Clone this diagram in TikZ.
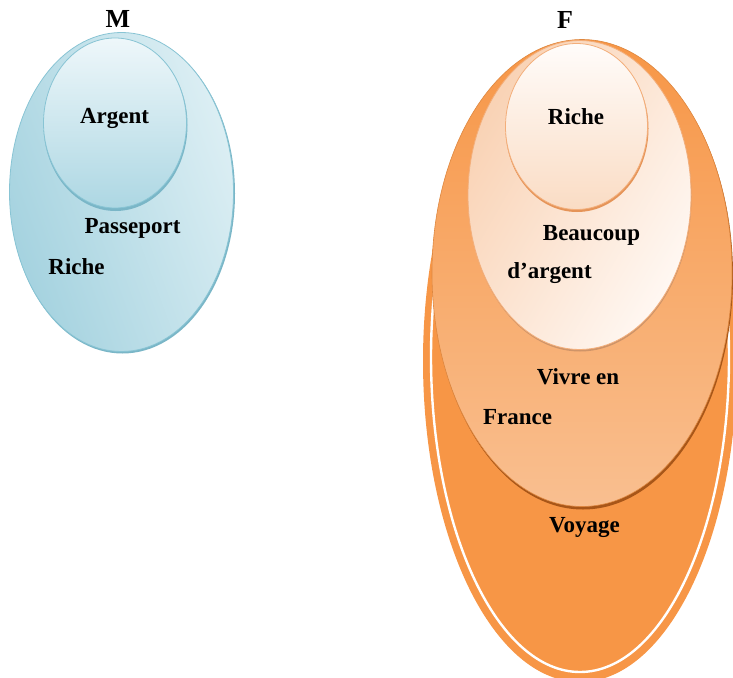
\documentclass[tikz,border=0pt]{standalone}
\usepackage{fontspec}
\setmainfont{Liberation Serif}
\usetikzlibrary{shapes.geometric}

% palette
\definecolor{mDark}{HTML}{A4D2DF}
\definecolor{mLight}{HTML}{DDEFF4}
\definecolor{mEdge}{HTML}{88C4D4}
\definecolor{mRim}{HTML}{7AB6C7}
\definecolor{mTop}{HTML}{EEF7FA}
\definecolor{mBottom}{HTML}{ADD7E3}
\definecolor{fOrange}{HTML}{F79646}
\definecolor{fMidTop}{HTML}{F79646}
\definecolor{fMidMid}{HTML}{F79C52}
\definecolor{fMidBottom}{HTML}{F9BF90}
\definecolor{fRim}{HTML}{A85618}
\definecolor{fPeach}{HTML}{F9D2B4}
\definecolor{fPale}{HTML}{FFF8F3}
\definecolor{fEdge}{HTML}{F3AE7A}
\definecolor{fCoreTop}{HTML}{FFFCFA}
\definecolor{fCoreBottom}{HTML}{FADCC4}
\definecolor{fCoreRim}{HTML}{E59458}

\begin{document}
\begin{tikzpicture}[x=1pt,y=-1pt,
  oval/.style={ellipse, inner sep=0pt, outer sep=0pt},
  lbl/.style={font=\fontsize{23}{23}\selectfont\bfseries, anchor=base, inner sep=0pt},
  ttl/.style={font=\fontsize{26}{26}\selectfont\bfseries, anchor=base, inner sep=0pt}]
\useasboundingbox (0,0) rectangle (733,677);

% ---------- set M ----------
\node[oval, fill=mRim, minimum width=225pt, minimum height=320pt] (mOuterRim) at (122.5,193.5) {};
\node[oval, draw=mEdge, line width=0.8pt, left color=mDark, right color=mLight,
      shading angle=110, minimum width=224pt, minimum height=319pt] (mOuter) at (121.5,192) {};
\node[oval, fill=mRim, minimum width=144pt, minimum height=172pt] (mInnerRim) at (115.5,125) {};
\node[oval, draw=mEdge, line width=0.8pt, top color=mTop, bottom color=mBottom,
      minimum width=143pt, minimum height=170pt] (mInner) at (115,123) {};

\node[ttl] (mTitle) at (118,28) {M};
\node[lbl] (mArgent) at (114.5,123) {Argent};
\node[lbl] (mPasseport) at (132.5,233) {Passeport};
\node[lbl] (mRiche) at (76.5,274) {Riche};

% ---------- set F ----------
% outer ring and the Voyage ellipse with its white outline
\node[oval, fill=fOrange, minimum width=314pt, minimum height=642pt] (fRing) at (580,361) {};
\node[oval, fill=fOrange, draw=white, line width=2.4pt,
      minimum width=298pt, minimum height=630pt] (fVoyage) at (580,357) {};

% Vivre en France
\node[oval, fill=fRim, minimum width=300pt, minimum height=468pt] (fMidRim) at (583,275.5) {};
\node[oval, draw=fOrange!90!black, line width=0.6pt, top color=fMidTop, middle color=fMidMid, bottom color=fMidBottom,
      minimum width=300pt, minimum height=467pt] (fMid) at (582,273) {};

% Beaucoup d'argent
\node[oval, fill=fEdge!85!black, minimum width=223pt, minimum height=310pt] (fInnerRim) at (580,196.5) {};
\node[oval, draw=fEdge, line width=0.8pt, left color=fPeach, right color=fPale,
      shading angle=60, minimum width=223pt, minimum height=309pt] (fInner) at (579.5,195) {};

% Riche
\node[oval, fill=fCoreRim, minimum width=143pt, minimum height=167pt] (fCoreShadow) at (577,128.5) {};
\node[oval, draw=fEdge, line width=0.8pt, top color=fCoreTop, bottom color=fCoreBottom,
      minimum width=142pt, minimum height=166pt] (fCore) at (576.5,126.5) {};

\node[ttl] (fTitle) at (565,29) {F};
\node[lbl] (fRiche) at (576,124) {Riche};
\node[lbl] (fBeaucoup) at (591.5,240) {Beaucoup};
\node[lbl] (fArgent) at (549.5,278) {d’argent};
\node[lbl] (fVivre) at (578,384) {Vivre en};
\node[lbl] (fFrance) at (517.5,424) {France};
\node[lbl] (fVoyageText) at (584.5,532) {Voyage};
\end{tikzpicture}
\end{document}
